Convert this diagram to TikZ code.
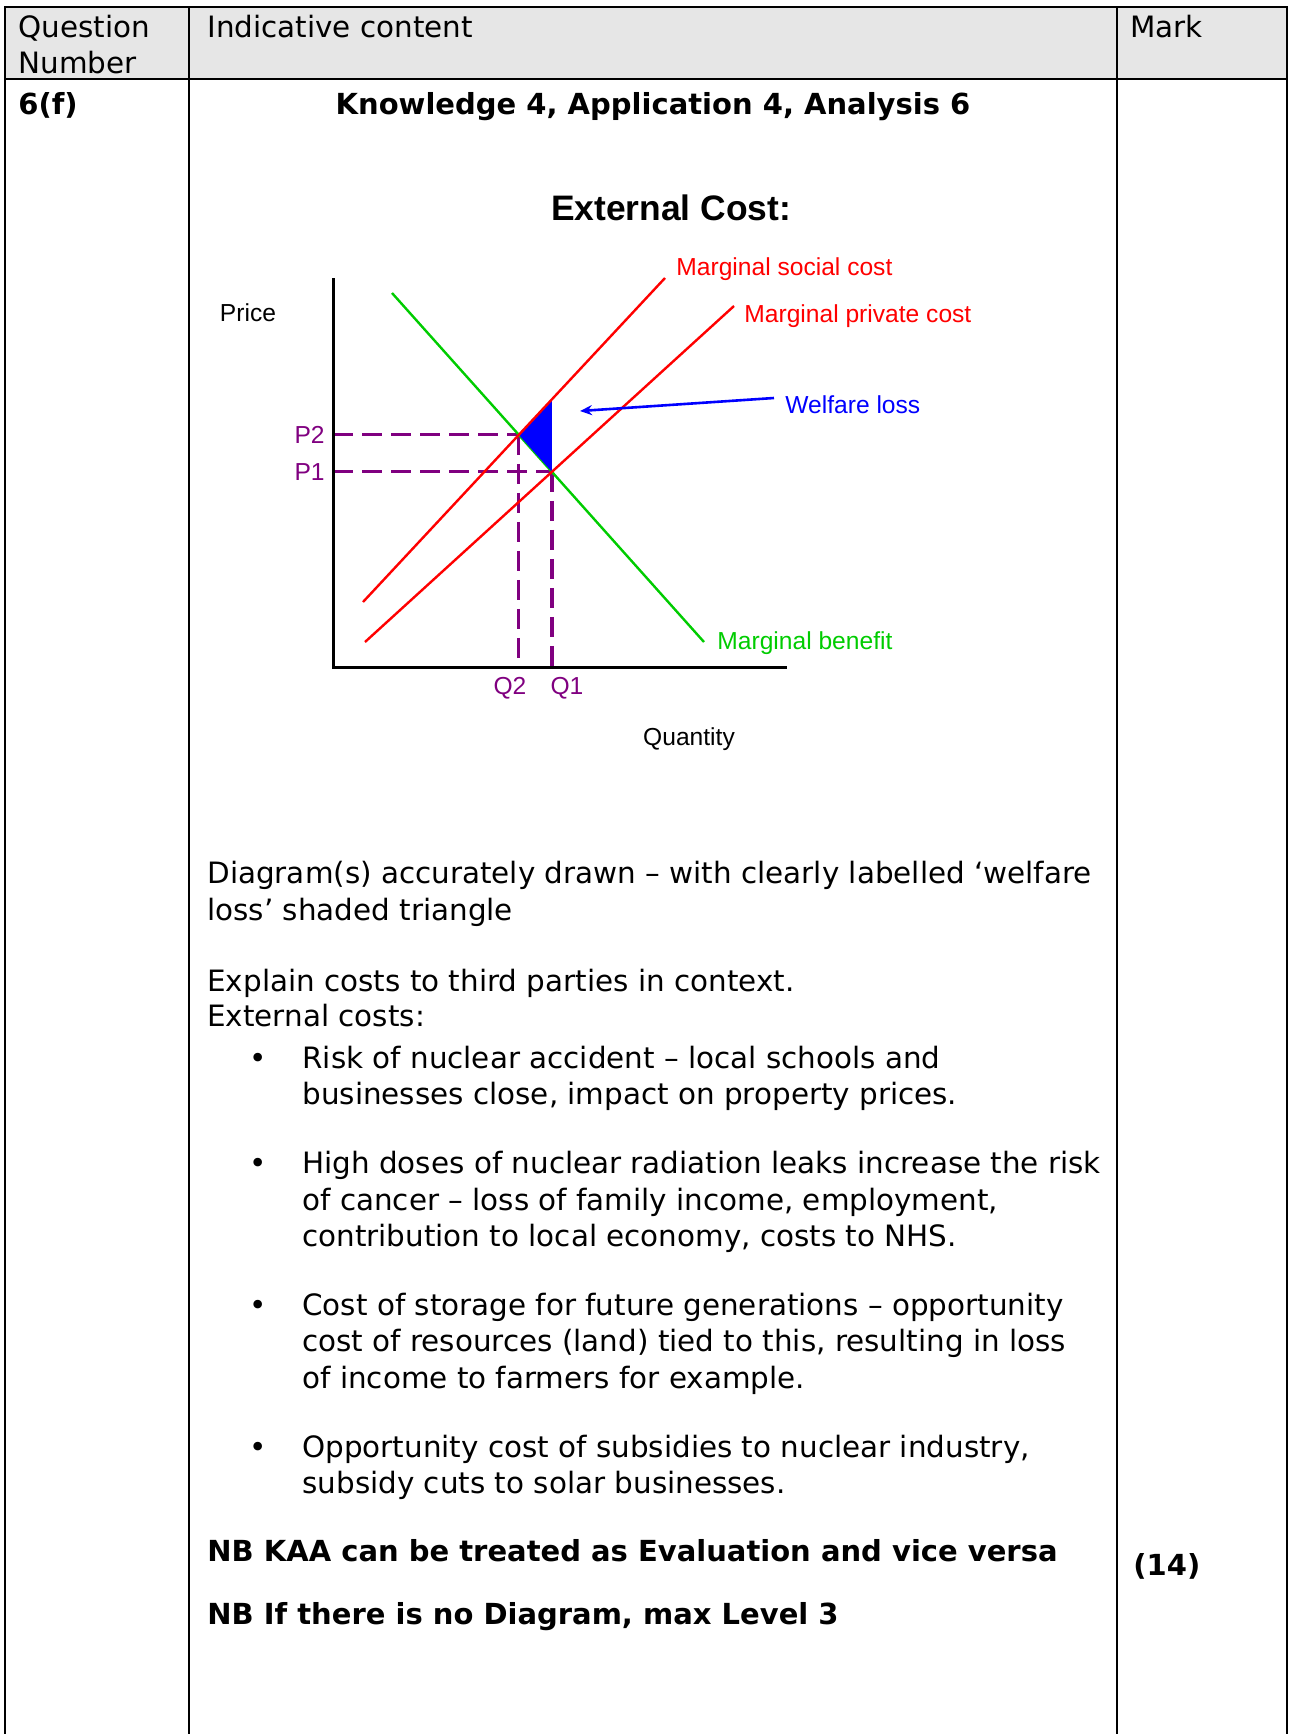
\documentclass[tikz,border=0pt]{standalone}
\usepackage{fontspec}
\usepackage{xcolor}
\setmainfont{DejaVu Sans}
\newfontfamily\arialfont{Liberation Sans}
\usetikzlibrary{arrows.meta}
\definecolor{headgray}{RGB}{230,230,230}
\definecolor{mbgreen}{RGB}{0,204,0}
\definecolor{qpurple}{RGB}{128,0,128}
\tikzset{
  body/.style={anchor=base west,inner sep=0pt,font=\fontsize{14.7}{17}\selectfont},
  bodybf/.style={body,font=\fontsize{14.5}{17}\selectfont\bfseries},
  bullet/.style={anchor=base,inner sep=0pt,font=\fontsize{14.7}{17}\selectfont},
  lab/.style={inner sep=0pt,font=\arialfont\fontsize{12.3}{14}\selectfont},
  tableline/.style={line width=1.35pt},
  axisline/.style={line width=1.5pt},
  costline/.style={red,line width=1.2pt},
  mbline/.style={mbgreen,line width=1.2pt},
  pdash/.style={qpurple,line width=1.6pt,dash pattern=on 10pt off 4.5pt},
  warrow/.style={blue,line width=1.3pt,-{Stealth[length=6pt,width=5pt]}}
}
\begin{document}
\begin{tikzpicture}[x=0.5pt,y=-0.5pt]
        \useasboundingbox (0,0) rectangle (1289,1734); %page
        \fill[headgray] (5,7) rectangle (1287,79); %header row
        \draw[tableline] (5,1734) -- (5,7) -- (1287,7) -- (1287,1734); %frame
        \draw[tableline] (5,79) -- (1287,79); %header bottom
        \draw[tableline] (189,7) -- (189,1734); %column 1
        \draw[tableline] (1117,7) -- (1117,1734); %column 2
        \node[body] (qhead) at (18,38) {Question}; %header
        \node[body] (nhead) at (18,74) {Number};
        \node[body] (ihead) at (207,38) {Indicative content};
        \node[body] (mhead) at (1130,38) {Mark};
        \node[bodybf] (qnum) at (18,115) {6(f)};
        \node[bodybf,anchor=base] (levels) at (653,115) {Knowledge 4, Application 4, Analysis 6};
        % diagram
        \node[lab,font=\arialfont\bfseries\fontsize{17.7}{20}\selectfont] (title) at (671,208) {External Cost:};
        \coordinate (ytop) at (333,278);
        \coordinate (O) at (333,667);
        \coordinate (xend) at (787,667);
        \coordinate (mbA) at (392,293);
        \coordinate (mbB) at (704,642);
        \coordinate (mscA) at (363,602);
        \coordinate (mscB) at (665,278);
        \coordinate (mpcA) at (365,642);
        \coordinate (mpcB) at (734,306);
        \coordinate (E2) at (intersection of mscA--mscB and mbA--mbB); %P2,Q2
        \coordinate (E1) at (intersection of mpcA--mpcB and mbA--mbB); %P1,Q1
        \coordinate (Q1top) at (E1 |- ytop);
        \coordinate (T) at (intersection of mscA--mscB and E1--Q1top); %triangle top
        \draw[pdash] (O |- E2) -- (E2); %P2
        \draw[pdash] (E2) -- (E2 |- O); %Q2
        \draw[pdash] (O |- E1) -- (E1); %P1
        \draw[pdash] (E1) -- (E1 |- O); %Q1
        \draw[mbline] (mbA) -- (mbB); %MB
        \fill[blue] (E2) -- (T) -- (E1) -- cycle; %welfare loss
        \draw[costline] (mscA) -- (mscB); %MSC
        \draw[costline] (mpcA) -- (mpcB); %MPC
        \draw[axisline] (ytop) -- (O) -- (xend); %axes
        \node[lab] (price) at (248,313) {Price};
        \node[lab] (qty) at (689,739) {Quantity};
        \node[lab,text=qpurple,anchor=east,xshift=-4pt] (p2) at (O |- E2) {P2};
        \node[lab,text=qpurple,anchor=east,xshift=-4pt] (p1) at (O |- E1) {P1};
        \node[lab,text=qpurple] (q2) at (510,688) {Q2};
        \node[lab,text=qpurple] (q1) at (567,688) {Q1};
        \node[lab,text=red,anchor=west] (msc) at (676,269) {Marginal social cost};
        \node[lab,text=red,anchor=west] (mpc) at (744,316) {Marginal private cost};
        \node[lab,text=mbgreen,anchor=west] (mb) at (717,643) {Marginal benefit};
        \node[lab,text=blue,anchor=west] (wlab) at (785,405) {Welfare loss};
        \coordinate (wtip) at (580,411);
        \draw[warrow] ([xshift=-5.5pt,yshift=3.5pt]wlab.west) -- (wtip);
        % text
        \node[body] (t1) at (207,883) {Diagram(s) accurately drawn – with clearly labelled ‘welfare};
        \node[body] (t2) at (207,920) {loss’ shaded triangle};
        \node[body] (t3) at (207,991) {Explain costs to third parties in context.};
        \node[body] (t4) at (207,1026) {External costs:};
        \node[bullet] (b1) at (258,1068) {•};
        \node[body] (t5) at (302,1068) {Risk of nuclear accident – local schools and};
        \node[body] (t6) at (302,1104) {businesses close, impact on property prices.};
        \node[bullet] (b2) at (258,1173) {•};
        \node[body] (t7) at (302,1173) {High doses of nuclear radiation leaks increase the risk};
        \node[body] (t8) at (302,1210) {of cancer – loss of family income, employment,};
        \node[body] (t9) at (302,1246) {contribution to local economy, costs to NHS.};
        \node[bullet] (b3) at (258,1315) {•};
        \node[body] (t10) at (302,1315) {Cost of storage for future generations – opportunity};
        \node[body] (t11) at (302,1351) {cost of resources (land) tied to this, resulting in loss};
        \node[body] (t12) at (302,1388) {of income to farmers for example.};
        \node[bullet] (b4) at (258,1457) {•};
        \node[body] (t13) at (302,1457) {Opportunity cost of subsidies to nuclear industry,};
        \node[body] (t14) at (302,1493) {subsidy cuts to solar businesses.};
        \node[bodybf] (nb1) at (207,1561) {NB KAA can be treated as Evaluation and vice versa};
        \node[bodybf] (mark) at (1133,1575) {(14)};
        \node[bodybf] (nb2) at (207,1624) {NB If there is no Diagram, max Level 3};
    \end{tikzpicture}
\end{document}
